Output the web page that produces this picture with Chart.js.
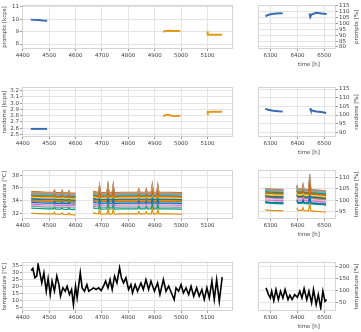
<!DOCTYPE html>
<html>
<head>
<meta charset="utf-8">
<script src="https://cdn.jsdelivr.net/npm/chart.js@4.4.1/dist/chart.umd.min.js"></script>
<style>
  body { margin: 0; background: #fff; }
  #wrap { position: relative; width: 361px; height: 332px; overflow: hidden; }
  #wrap canvas { position: absolute; }
</style>
</head>
<body>
<div id="wrap"></div>
<script>
// ---- prompts [kcps] (left) / prompts [%] (right)
const promptsRefT = [4430, 4445, 4460, 4475, 4492];
const promptsRef = [9.97, 9.95, 9.93, 9.90, 9.88];
const promptsT2 = [4932, 4945, 4960, 4975, 4987, 4998];
const prompts2 = [9.02, 9.05, 9.07, 9.05, 9.06, 9.04];
const promptsT3 = [5100, 5101, 5115, 5130, 5145, 5156];
const prompts3 = [9.02, 8.76, 8.75, 8.75, 8.74, 8.74];
const promptsPctT = [6281, 6290, 6300, 6320, 6345, 6400, 6445, 6448, 6452, 6470, 6490, 6509];
const promptsPct = [106.0, 107.2, 107.8, 108.3, 108.6, null, 108.5, 105.5, 107.5, 109.0, 108.3, 108.0];

// ---- randoms [kcps] / randoms [%]
const randomsRefT = [4430, 4460, 4492];
const randomsRef = [2.59, 2.59, 2.59];
const randomsT2 = [4932, 4940, 4950, 4965, 4980, 4998];
const randoms2 = [2.79, 2.81, 2.815, 2.80, 2.795, 2.80];
const randomsT3 = [5100, 5101, 5120, 5140, 5156];
const randoms3 = [2.82, 2.86, 2.865, 2.865, 2.865];
const randomsPctT = [6280, 6290, 6310, 6330, 6345, 6400, 6447, 6450, 6470, 6490, 6507];
const randomsPct = [103.7, 103.0, 102.5, 102.2, 102.1, null, 103.9, 102.8, 102.1, 101.8, 101.2];

// ---- detector temperatures: per-sensor level plus the common drift / heating spikes
const tempTimesLeft = [4432, 4460, 4490, 4516, 4520, 4524, 4545, 4549, 4553, 4571, 4575, 4579, 4600, 4630,
  4666, 4678, 4687, 4691, 4695, 4719, 4723, 4727, 4739, 4743, 4747, 4775, 4810, 4836, 4840, 4844,
  4864, 4868, 4872, 4887, 4891, 4895, 4908, 4912, 4916, 4950, 5004];
const tempDriftLeft = [0.1, 0.05, 0, 0, 0, -0.05, -0.05, -0.05, -0.05, -0.1, -0.1, -0.1, -0.15, null,
  0.15, 0.05, 0, 0, -0.05, 0, 0, -0.05, 0, 0, -0.05, 0, 0, 0, 0, 0,
  0, 0, 0, 0, 0, 0, 0, 0, 0, 0, -0.05];
const tempSpikeLeft = [0, 0, 0, 0, 0.4, 0, 0, 0.4, 0, 0, 0.4, 0, 0, null,
  0, 0, 0, 1.2, 0, 0, 1.3, 0, 0, 1.3, 0, 0, 0, 0, 0.6, 0,
  0, 0.6, 0, 0, 1.3, 0, 0, 1.2, 0, 0, 0];
const tempTimesRight = [6280, 6300, 6320, 6348, 6375, 6398, 6402, 6417, 6421, 6425, 6442, 6446, 6450, 6470, 6490, 6507];
const tempDriftRight = [0, -0.2, -0.3, -0.4, null, 0, -0.2, -0.2, -0.2, -0.3, -0.4, -0.4, -0.4, -0.6, -0.8, -1.0];
const tempSpikeRight = [0, 0, 0, 0, null, 1.5, 0, 0, 2.0, 0, 0, 6.3, 0, 0, 0, 0];
const tempLevelsLeft = [33.6, 31.9, 32.7, 34.6, 33.3, 35.2, 33.1, 35.0, 34.4, 34.9, 34.2, 34.0,
  34.8, 33.9, 34.3, 34.7, 33.5, 35.1, 34.5, 33.8, 34.1, 34.5, 33.0, 35.3];
const tempLevelsRight = [99.2, 95.7, 98.8, 103.2, 100.2, 104.8, 99.8, 105.2, 102.6, 104.4, 101.9, 102.3,
  103.8, 101.5, 103.0, 104.1, 100.7, 104.6, 102.0, 101.1, 101.7, 103.5, 99.4, 105.0];
const tempSpikeGain = [0.5, 0.6, 0.5, 0.6, 0.4, 1.0, 0.4, 1.1, 0.5, 0.7, 0.5, 0.6,
  0.6, 0.5, 0.5, 0.8, 0.4, 0.9, 0.5, 0.5, 0.5, 0.7, 0.5, 0.8];

// ---- outdoor temperature
const outdoorTimeLeft = [
  4432, 4438, 4446, 4453, 4458, 4466, 4472, 4480, 4489, 4496,
  4504, 4511, 4520, 4529, 4537, 4543, 4552, 4561, 4568, 4577,
  4585, 4592, 4600, 4606, 4618, 4625, 4634, 4643, 4650, 4659,
  4668, 4678, 4688, 4697, 4706, 4714, 4723, 4731, 4739, 4748,
  4757, 4767, 4774, 4782, 4791, 4801, 4810, 4816, 4826, 4835,
  4848, 4857, 4867, 4877, 4886, 4899, 4911, 4920, 4933, 4943,
  4953, 4966, 4974, 4981, 4991, 5000, 5009, 5019, 5029, 5038,
  5048, 5059, 5069, 5079, 5088, 5098, 5107, 5117, 5126, 5135,
  5145, 5156];
const outdoorTempLeft = [
  31.6, 33.1, 26.3, 27.5, 36.0, 28.7, 22.6, 29.9, 16.6, 25.8,
  14.2, 23.9, 16.6, 27.5, 21.4, 13.0, 19.0, 16.6, 20.2, 14.2,
  17.8, 6.9, 20.2, 11.8, 29.9, 19.0, 16.6, 21.4, 16.6, 17.8,
  19.0, 17.8, 19.0, 17.1, 20.2, 23.9, 19.0, 25.0, 17.8, 27.5,
  22.6, 33.5, 26.3, 22.6, 26.3, 17.8, 21.4, 15.4, 21.4, 16.6,
  22.6, 17.8, 25.0, 17.8, 23.9, 16.6, 22.6, 14.2, 25.0, 16.6,
  20.2, 14.2, 10.6, 19.0, 16.6, 21.4, 15.4, 19.0, 14.2, 20.2,
  13.0, 19.0, 13.0, 17.8, 10.6, 19.0, 11.8, 23.9, 10.6, 25.0,
  9.3, 26.8];
const outdoorTimeRight = [6283, 6292, 6299, 6304, 6312, 6320, 6329, 6337, 6346, 6354,
  6365, 6372, 6380, 6390, 6400, 6409, 6417, 6425, 6435, 6443,
  6453, 6460, 6470, 6478, 6487, 6495, 6503, 6509];
const outdoorTempRight = [110.7, 82.4, 68.2, 96.5, 56.9, 103.6, 61.1, 96.5, 68.2, 103.6,
  61.1, 79.6, 61.1, 82.4, 71.0, 96.5, 68.2, 107.9, 61.1, 96.5,
  47.0, 103.6, 39.9, 82.4, 25.7, 96.5, 54.0, 61.0];

// ---- axis ticks
const leftXTicks = [4400, 4500, 4600, 4700, 4800, 4900, 5000, 5100];
const rightXTicks = [6300, 6400, 6500];
const promptsTicks = [8, 9, 10, 11];
const promptsPctTicks = [80, 85, 90, 95, 100, 105, 110, 115];
const randomsTicks = [2.5, 2.6, 2.7, 2.8, 2.9, 3.0, 3.1, 3.2];
const randomsPctTicks = [90, 95, 100, 105, 110, 115];
const tempTicks = [32, 34, 36, 38];
const tempPctTicks = [95, 100, 105, 110];
const outdoorTicks = [5, 10, 15, 20, 25, 30, 35];
const outdoorPctTicks = [50, 100, 150, 200];

const BLUE = '#3a6cb2';
const ORANGE = '#e19a1e';
const TEMP_COLORS = ['#0173b2', '#de8f05', '#029e73', '#d55e00', '#cc78bc',
  '#ca9161', '#fbafe4', '#949494', '#ece133', '#56b4e9'];
const TEXT = '#404040';
const GRID = '#e4e4e4';
const FRAME = '#d4d4d4';

Chart.defaults.font.family = 'DejaVu Sans';
Chart.defaults.font.size = 5.5;
Chart.defaults.color = TEXT;

function pts(ts, vs) {
  return ts.map((t, i) => ({ x: t, y: vs[i] }));
}

function line(ts, vs, color, width) {
  return { data: pts(ts, vs), borderColor: color, borderWidth: width, pointRadius: 0, spanGaps: false };
}

function tempSets(times, drift, spike, levels) {
  return levels.map((lv, i) => ({
    data: times.map((t, k) => ({ x: t, y: drift[k] === null ? null : lv + drift[k] + tempSpikeGain[i] * spike[k] })),
    borderColor: TEMP_COLORS[i % TEMP_COLORS.length],
    borderWidth: 1.2,
    pointRadius: 0
  }));
}

// frame around the plot area, plus the right-hand titles (drawn bottom-to-top like the left ones)
const framePlugin = {
  id: 'frame',
  afterDraw(chart, args, o) {
    const { ctx, chartArea: a } = chart;
    ctx.save();
    ctx.strokeStyle = FRAME;
    ctx.lineWidth = 1;
    ctx.strokeRect(Math.round(a.left) + 0.5, Math.round(a.top) + 0.5,
      Math.round(a.right - a.left) - 1, Math.round(a.bottom - a.top) - 1);
    ctx.fillStyle = TEXT;
    ctx.font = '5.5px "DejaVu Sans"';
    ctx.textAlign = 'center';
    ctx.textBaseline = 'middle';
    if (o.xTitle) ctx.fillText(o.xTitle, (a.left + a.right) / 2 + 12, a.bottom + 16);
    if (o.yTitle) {
      ctx.translate(chart.width - 4, (a.top + a.bottom) / 2);
      ctx.rotate(-Math.PI / 2);
      ctx.fillText(o.yTitle, 0, 0);
    }
    ctx.restore();
  }
};

function panel(p) {
  const left = p.side === 'left';
  const xh = left ? 12 : 21;
  const top = p.plotTop - 5;
  const h = p.plotBottom - p.plotTop + 5 + xh;
  const w = left ? 236 : 111;
  const canvas = document.createElement('canvas');
  canvas.width = w;
  canvas.height = h;
  canvas.style.left = (left ? 0 : 250) + 'px';
  canvas.style.top = top + 'px';
  canvas.style.width = w + 'px';
  canvas.style.height = h + 'px';
  document.getElementById('wrap').appendChild(canvas);

  new Chart(canvas, {
    type: 'line',
    data: { datasets: p.datasets },
    options: {
      responsive: false,
      animation: false,
      devicePixelRatio: 1,
      layout: { padding: { top: 5, right: left ? 3 : 0, left: left ? 0 : 8, bottom: 0 } },
      plugins: {
        legend: { display: false },
        tooltip: { enabled: false },
        frame: { xTitle: left ? null : 'time [h]', yTitle: left ? null : p.yTitle }
      },
      elements: { line: { tension: 0 }, point: { radius: 0 } },
      scales: {
        x: {
          type: 'linear',
          min: left ? 4397 : 6253,
          max: left ? 5197 : 6544,
          afterBuildTicks: ax => { ax.ticks = (left ? leftXTicks : rightXTicks).map(v => ({ value: v })); },
          afterFit: ax => { ax.height = xh; },
          ticks: { autoSkip: false, maxRotation: 0, minRotation: 0, padding: 1, callback: v => String(v) },
          grid: { color: GRID, tickColor: '#9a9a9a', tickLength: 2 },
          border: { display: false }
        },
        y: {
          type: 'linear',
          position: left ? 'left' : 'right',
          min: p.yMin,
          max: p.yMax,
          afterBuildTicks: ax => { ax.ticks = p.yTicks.map(v => ({ value: v })); },
          afterFit: ax => { ax.width = left ? 22 : 25; },
          ticks: { autoSkip: false, padding: 1, callback: v => v.toFixed(p.yDec || 0) },
          grid: { color: GRID, tickColor: '#9a9a9a', tickLength: 2 },
          border: { display: false },
          title: { display: left, text: p.yTitle, padding: { top: 1.5, bottom: 0 } }
        }
      }
    },
    plugins: [framePlugin]
  });
}

// row 1
panel({ side: 'left', plotTop: 5, plotBottom: 49, yMin: 7.6, yMax: 11.15, yTicks: promptsTicks,
  yTitle: 'prompts [kcps]',
  datasets: [line(promptsRefT, promptsRef, BLUE, 2), line(promptsT2, prompts2, ORANGE, 2), line(promptsT3, prompts3, ORANGE, 2)] });
panel({ side: 'right', plotTop: 5, plotBottom: 49, yMin: 78.3, yMax: 115.6, yTicks: promptsPctTicks,
  yTitle: 'prompts [%]', datasets: [line(promptsPctT, promptsPct, BLUE, 2)] });

// row 2
panel({ side: 'left', plotTop: 87, plotBottom: 137, yMin: 2.46, yMax: 3.26, yTicks: randomsTicks, yDec: 1,
  yTitle: 'randoms [kcps]',
  datasets: [line(randomsRefT, randomsRef, BLUE, 2), line(randomsT2, randoms2, ORANGE, 2), line(randomsT3, randoms3, ORANGE, 2)] });
panel({ side: 'right', plotTop: 87, plotBottom: 137, yMin: 87.3, yMax: 116.2, yTicks: randomsPctTicks,
  yTitle: 'randoms [%]', datasets: [line(randomsPctT, randomsPct, BLUE, 2)] });

// row 3
panel({ side: 'left', plotTop: 170, plotBottom: 219, yMin: 31.1, yMax: 38.8, yTicks: tempTicks,
  yTitle: 'temperature [°C]', datasets: tempSets(tempTimesLeft, tempDriftLeft, tempSpikeLeft, tempLevelsLeft) });
panel({ side: 'right', plotTop: 170, plotBottom: 219, yMin: 91.7, yMax: 113.4, yTicks: tempPctTicks,
  yTitle: 'temperature [%]', datasets: tempSets(tempTimesRight, tempDriftRight, tempSpikeRight, tempLevelsRight) });

// row 4
panel({ side: 'left', plotTop: 262, plotBottom: 311, yMin: 2.3, yMax: 37.7, yTicks: outdoorTicks,
  yTitle: 'temperature [°C]', datasets: [line(outdoorTimeLeft, outdoorTempLeft, '#000', 1.6)] });
panel({ side: 'right', plotTop: 262, plotBottom: 311, yMin: 13, yMax: 220, yTicks: outdoorPctTicks,
  yTitle: 'temperature [%]', datasets: [line(outdoorTimeRight, outdoorTempRight, '#000', 1.6)] });
</script>
</body>
</html>
